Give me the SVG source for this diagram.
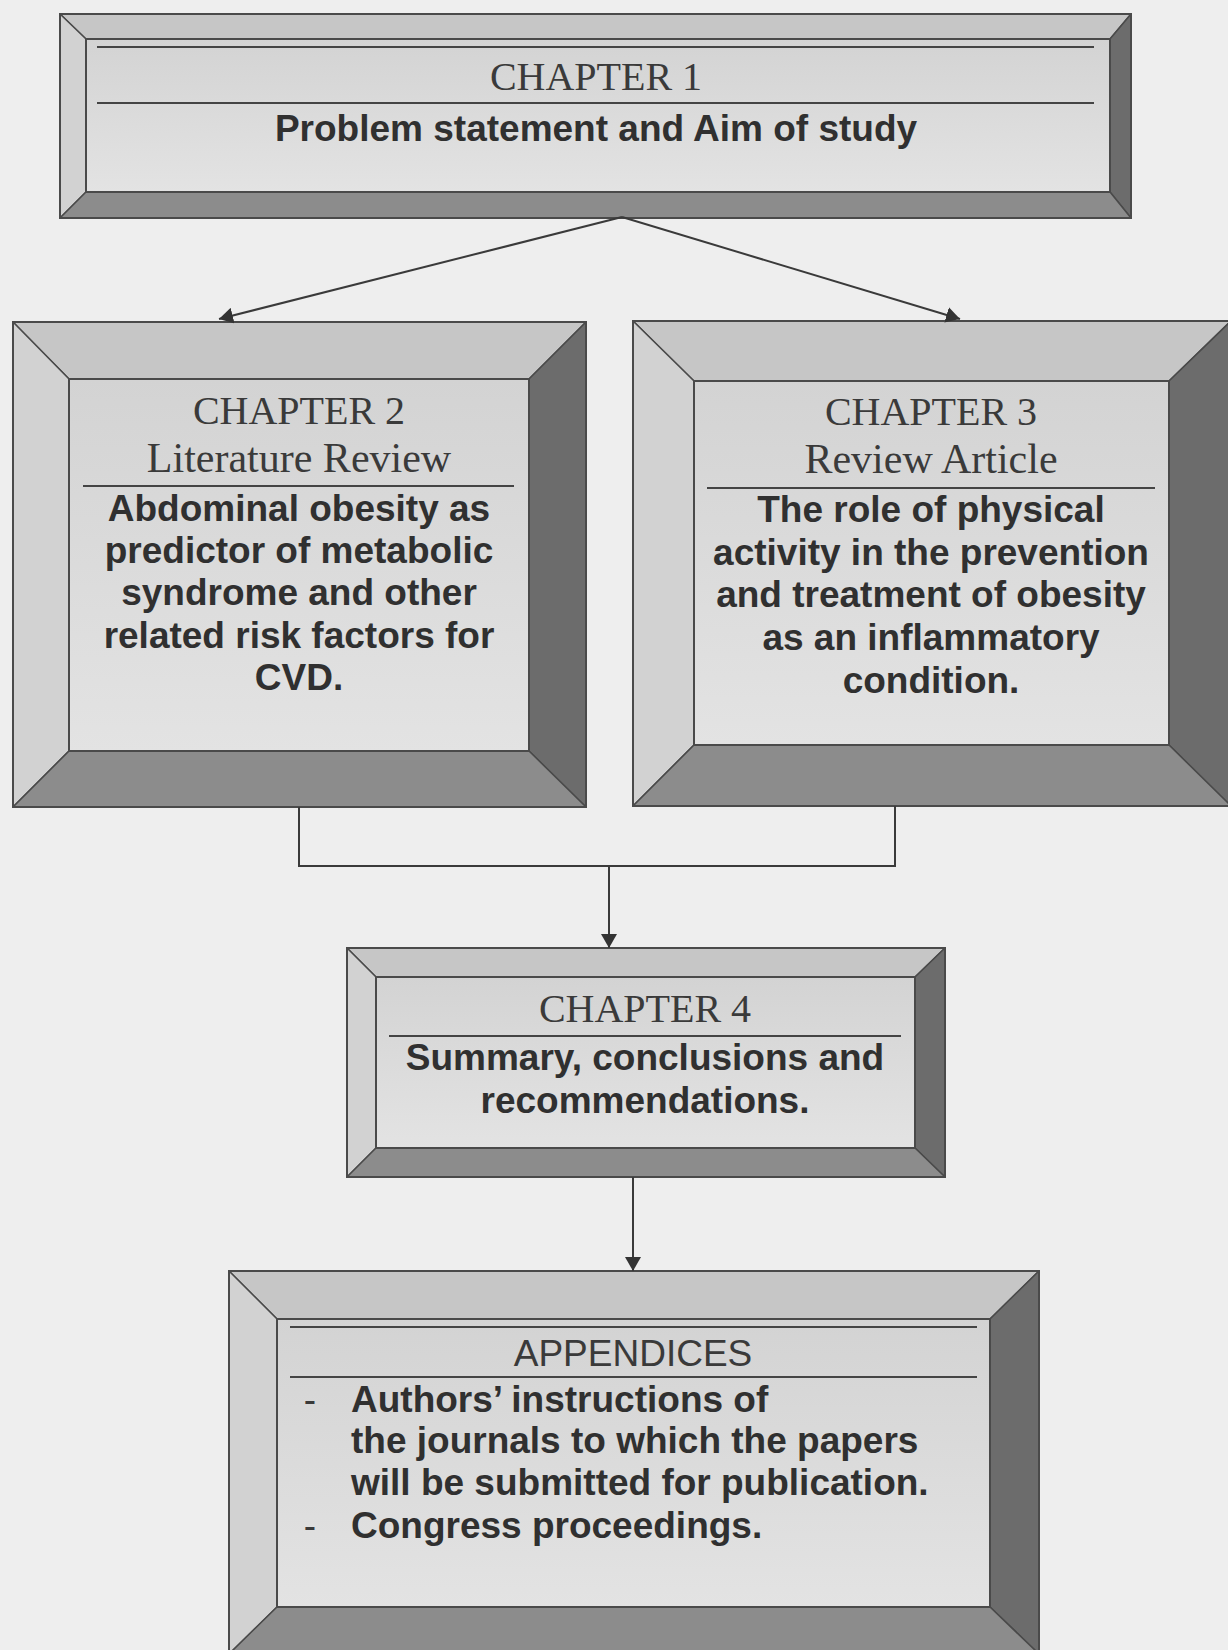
<svg xmlns="http://www.w3.org/2000/svg" width="1228" height="1650" viewBox="0 0 1228 1650">
<defs>
<linearGradient id="face" x1="0" y1="0" x2="0" y2="1">
<stop offset="0" stop-color="#d3d3d3"/>
<stop offset="1" stop-color="#e3e3e3"/>
</linearGradient>
<marker id="arr" viewBox="0 0 14 16" refX="14" refY="8" markerWidth="14" markerHeight="16" markerUnits="userSpaceOnUse" orient="auto">
<path d="M0,0 L14,8 L0,16 Z" fill="#333"/>
</marker>
<style>
.top{fill:#c6c6c6;stroke:#4a4a4a;stroke-width:1.5;stroke-linejoin:round}
.left{fill:#d2d2d2;stroke:#4a4a4a;stroke-width:1.5;stroke-linejoin:round}
.right{fill:#6c6c6c;stroke:#4a4a4a;stroke-width:1.5;stroke-linejoin:round}
.bottom{fill:#8c8c8c;stroke:#4a4a4a;stroke-width:1.5;stroke-linejoin:round}
.face{fill:url(#face);stroke:#4a4a4a;stroke-width:2}
.outline{fill:none;stroke:#4a4a4a;stroke-width:2}
.rule{stroke:#444;stroke-width:2}
.serif{font-family:"Liberation Serif","Times New Roman",serif;fill:#3a3a3a;text-anchor:middle}
.ch{font-size:40px}
.sub{font-size:42px}
.bold{font-family:"Liberation Sans",Arial,sans-serif;font-weight:bold;font-size:37px;fill:#303030;text-anchor:middle}
.start{text-anchor:start}
.dash{font-family:"Liberation Sans",Arial,sans-serif;font-size:37px;fill:#3a3a3a;text-anchor:middle}
.plain{font-family:"Liberation Sans",Arial,sans-serif;font-size:37px;fill:#3a3a3a;text-anchor:middle}
.conn{fill:none;stroke:#3a3a3a;stroke-width:2}
</style>
</defs>
<rect x="0" y="0" width="1228" height="1650" fill="#eeeeee"/>

<g id="chapter1">
<polygon class="top" points="60,14 1131,14 1110,39 86,39"/>
<polygon class="left" points="60,14 86,39 86,192 60,218"/>
<polygon class="right" points="1131,14 1131,218 1110,192 1110,39"/>
<polygon class="bottom" points="60,218 86,192 1110,192 1131,218"/>
<rect class="face" x="86" y="39" width="1024" height="153"/>
<rect class="outline" x="60" y="14" width="1071" height="204"/>
<line class="rule" x1="97" y1="47" x2="1094" y2="47"/>
<line class="rule" x1="97" y1="103" x2="1094" y2="103"/>
<text class="serif ch" x="596" y="90">CHAPTER 1</text>
<text class="bold" x="596" y="141">Problem statement and Aim of study</text>
</g>

<g id="chapter2">
<polygon class="top" points="13,322 586,322 529,379 69,379"/>
<polygon class="left" points="13,322 69,379 69,751 13,807"/>
<polygon class="right" points="586,322 586,807 529,751 529,379"/>
<polygon class="bottom" points="13,807 69,751 529,751 586,807"/>
<rect class="face" x="69" y="379" width="460" height="372"/>
<rect class="outline" x="13" y="322" width="573" height="485"/>
<text class="serif ch" x="299" y="424">CHAPTER 2</text>
<text class="serif sub" x="299" y="472">Literature Review</text>
<line class="rule" x1="83" y1="486" x2="514" y2="486"/>
<text class="bold" x="299" y="521">Abdominal obesity as</text>
<text class="bold" x="299" y="563">predictor of metabolic</text>
<text class="bold" x="299" y="605">syndrome and other</text>
<text class="bold" x="299" y="648">related risk factors for</text>
<text class="bold" x="299" y="690">CVD.</text>
</g>

<g id="chapter3">
<polygon class="top" points="633,321 1231,321 1169,381 694,381"/>
<polygon class="left" points="633,321 694,381 694,745 633,806"/>
<polygon class="right" points="1231,321 1231,806 1169,745 1169,381"/>
<polygon class="bottom" points="633,806 694,745 1169,745 1231,806"/>
<rect class="face" x="694" y="381" width="475" height="364"/>
<rect class="outline" x="633" y="321" width="598" height="485"/>
<text class="serif ch" x="931" y="425">CHAPTER 3</text>
<text class="serif sub" x="931" y="473">Review Article</text>
<line class="rule" x1="707" y1="488" x2="1155" y2="488"/>
<text class="bold" x="931" y="522">The role of physical</text>
<text class="bold" x="931" y="565">activity in the prevention</text>
<text class="bold" x="931" y="607">and treatment of obesity</text>
<text class="bold" x="931" y="650">as an inflammatory</text>
<text class="bold" x="931" y="693">condition.</text>
</g>

<g id="chapter4">
<polygon class="top" points="347,948 945,948 915,977 376,977"/>
<polygon class="left" points="347,948 376,977 376,1148 347,1177"/>
<polygon class="right" points="945,948 945,1177 915,1148 915,977"/>
<polygon class="bottom" points="347,1177 376,1148 915,1148 945,1177"/>
<rect class="face" x="376" y="977" width="539" height="171"/>
<rect class="outline" x="347" y="948" width="598" height="229"/>
<text class="serif ch" x="645" y="1022">CHAPTER 4</text>
<line class="rule" x1="389" y1="1036" x2="901" y2="1036"/>
<text class="bold" x="645" y="1070">Summary, conclusions and</text>
<text class="bold" x="645" y="1113">recommendations.</text>
</g>

<g id="appendices">
<polygon class="top" points="229,1271 1039,1271 990,1319 277,1319"/>
<polygon class="left" points="229,1271 277,1319 277,1607 229,1654"/>
<polygon class="right" points="1039,1271 1039,1654 990,1607 990,1319"/>
<polygon class="bottom" points="229,1654 277,1607 990,1607 1039,1654"/>
<rect class="face" x="277" y="1319" width="713" height="288"/>
<rect class="outline" x="229" y="1271" width="810" height="383"/>
<line class="rule" x1="290" y1="1327" x2="977" y2="1327"/>
<text class="plain" x="633" y="1366">APPENDICES</text>
<line class="rule" x1="290" y1="1377" x2="977" y2="1377"/>
<text class="dash" x="310" y="1412">-</text>
<text class="bold start" x="351" y="1412">Authors’ instructions of</text>
<text class="bold start" x="351" y="1453">the journals to which the papers</text>
<text class="bold start" x="351" y="1495">will be submitted for publication.</text>
<text class="dash" x="310" y="1538">-</text>
<text class="bold start" x="351" y="1538">Congress proceedings.</text>
</g>

<g id="connectors">
<line class="conn" x1="622" y1="217" x2="219" y2="319" marker-end="url(#arr)"/>
<line class="conn" x1="622" y1="217" x2="960" y2="319" marker-end="url(#arr)"/>
<polyline class="conn" points="299,807 299,866 895,866 895,806"/>
<line class="conn" x1="609" y1="866" x2="609" y2="948" marker-end="url(#arr)"/>
<line class="conn" x1="633" y1="1177" x2="633" y2="1271" marker-end="url(#arr)"/>
</g>
</svg>
